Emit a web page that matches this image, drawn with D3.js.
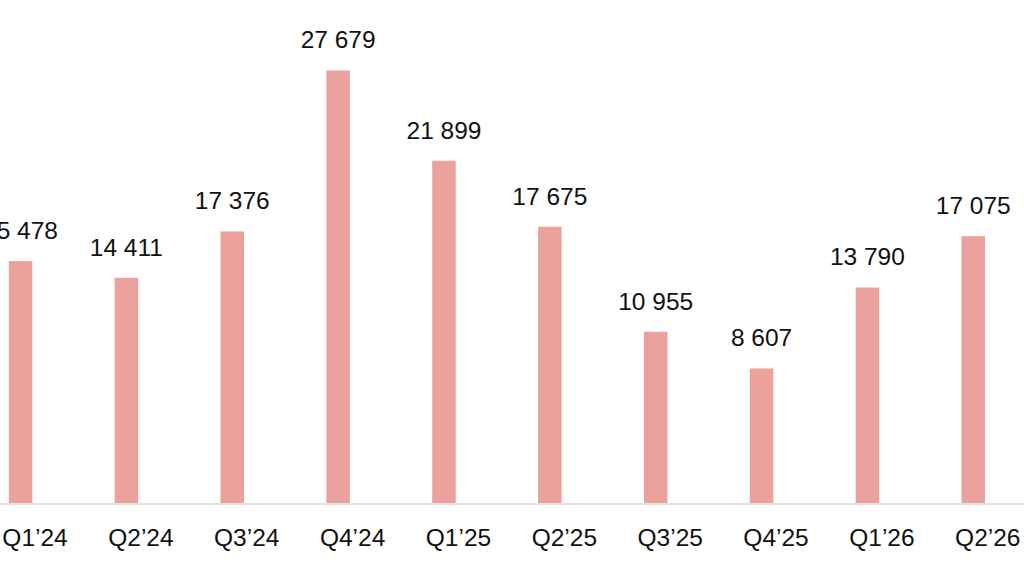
<!DOCTYPE html>
<html>
<head>
<meta charset="utf-8">
<script src="https://cdn.jsdelivr.net/npm/d3@7"></script>
<style>
  body { margin: 0; background: #fff; }
  text { font-family: "Liberation Sans", Arial, sans-serif; }
</style>
</head>
<body>
<div id="chart"></div>
<script>
const svgWidth = 1024
const svgHeight = 576

// quarters and values
const quarters = ["Q1’24", "Q2’24", "Q3’24", "Q4’24", "Q1’25", "Q2’25", "Q3’25", "Q4’25", "Q1’26", "Q2’26"]
const values = [15478, 14411, 17376, 27679, 21899, 17675, 10955, 8607, 13790, 17075]

const data = quarters.map((q, i) => ({ q: q, v: values[i] }))

const barWidth = 23.5
// bars sit a little left of the category centre (as in the source chart)
const barShift = -14.5

let svg = d3
  .select("#chart")
  .append("svg")
  .attr("width", svgWidth)
  .attr("height", svgHeight)

// the chart is cropped on the left, so the band range starts off-canvas
let x = d3
  .scaleBand()
  .domain(quarters)
  .range([-17.9, 1040.7])
  .padding(0)

let y = d3
  .scaleLinear()
  .domain([0, 28000])
  .range([503, 65.4])

const barX = d3 => x(d3.q) + x.bandwidth() / 2 + barShift

let bottomAxis = d3.axisBottom(x).tickSize(0).tickPadding(25)

let xAxis = svg
  .append("g")
  .attr("transform", "translate(0, 503.5)")
  .call(bottomAxis)

xAxis.select(".domain").attr("stroke", "#d9d9d9").attr("stroke-width", 1.5)
xAxis
  .selectAll("text")
  .attr("font-size", "24.5px")
  .attr("fill", "#111")
  .attr("font-family", "Liberation Sans, Arial, sans-serif")

svg
  .selectAll("rect.bar")
  .data(data)
  .enter()
  .append("rect")
  .attr("class", "bar")
  .attr("x", d => barX(d) - barWidth / 2)
  .attr("y", d => y(d.v))
  .attr("width", barWidth)
  .attr("height", d => y(0) - y(d.v))
  .attr("fill", "#eba19c")

const fmt = v => d3.format(",")(v).replace(/,/g, " ")

svg
  .selectAll("text.lbl")
  .data(data)
  .enter()
  .append("text")
  .attr("class", "lbl")
  .attr("x", d => barX(d))
  .attr("y", d => y(d.v) - 22)
  .attr("text-anchor", "middle")
  .attr("font-size", "24.5px")
  .attr("fill", "#111")
  .text(d => fmt(d.v))
</script>
</body>
</html>
